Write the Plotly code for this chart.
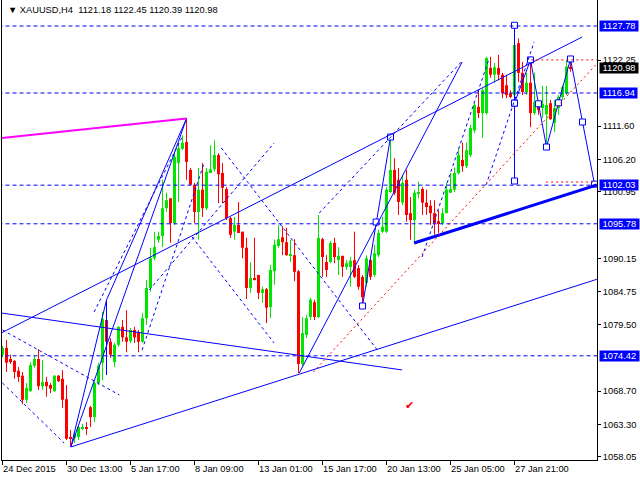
import plotly.graph_objects as go

# ---------------- data ----------------
date_labels = ["24 Dec 2015", "30 Dec 13:00", "5 Jan 17:00", "8 Jan 09:00", "13 Jan 01:00",
               "15 Jan 17:00", "20 Jan 13:00", "25 Jan 05:00", "27 Jan 21:00"]
date_bars = [0, 16, 32, 48, 64, 80, 96, 112, 128]

opens = [1074.6, 1075.7, 1073.9, 1073.6, 1072.0, 1071.2, 1067.3, 1068.7, 1072.8, 1073.9,
         1069.5, 1070.2, 1069.7, 1068.7, 1071.2, 1070.7, 1067.4, 1061.3, 1061.1, 1061.3,
         1062.7, 1062.9, 1066.1, 1064.5, 1070.0, 1073.3, 1080.2, 1076.7, 1073.4, 1076.2,
         1079.1, 1077.4, 1076.8, 1078.6, 1078.3, 1076.7, 1080.5, 1085.4, 1090.2, 1093.2,
         1093.8, 1098.3, 1099.9, 1095.9, 1105.6, 1107.9, 1109.0, 1104.5, 1102.1, 1097.7,
         1101.3, 1098.3, 1104.0, 1104.6, 1106.9, 1104.0, 1101.4, 1096.7, 1094.5, 1095.6,
         1094.5, 1091.9, 1085.4, 1087.0, 1087.5, 1084.6, 1085.2, 1082.3, 1088.1, 1092.2,
         1093.6, 1092.8, 1090.7, 1090.7, 1088.1, 1073.1, 1077.8, 1080.7, 1083.1, 1080.7,
         1093.3, 1089.6, 1089.6, 1092.7, 1089.9, 1090.6, 1088.8, 1088.8, 1089.9, 1088.6,
         1087.2, 1086.2, 1089.9, 1087.5, 1090.7, 1094.5, 1094.5, 1100.9, 1104.5, 1102.9,
         1099.2, 1102.9, 1097.5, 1096.4, 1100.6, 1101.4, 1099.2, 1098.7, 1097.5, 1096.2,
         1095.9, 1097.5, 1100.8, 1101.3, 1104.0, 1106.1, 1105.1, 1106.9, 1110.9, 1114.7,
         1113.7, 1113.7, 1121.0, 1119.9, 1121.0, 1119.9, 1118.2, 1116.9, 1116.6, 1125.0,
         1120.2, 1117.1, 1118.6, 1113.7, 1115.3, 1114.5, 1113.5, 1115.3, 1112.1, 1114.5,
         1116.3, 1116.9, 1121.18]
highs = [1076.0, 1077.0, 1074.6, 1073.7, 1072.6, 1071.8, 1070.0, 1073.4, 1074.4, 1075.5,
         1073.7, 1071.0, 1070.0, 1071.3, 1071.3, 1072.1, 1069.7, 1062.4, 1062.1, 1063.2,
         1063.4, 1063.7, 1066.3, 1070.2, 1073.3, 1081.5, 1081.5, 1077.3, 1076.5, 1079.2,
         1080.2, 1081.8, 1078.9, 1079.1, 1078.6, 1081.3, 1086.7, 1091.9, 1094.5, 1094.5,
         1102.9, 1100.8, 1099.9, 1107.4, 1108.9, 1110.1, 1112.6, 1104.8, 1102.4, 1104.8,
         1105.6, 1104.8, 1108.5, 1109.3, 1107.2, 1105.6, 1101.7, 1096.9, 1096.9, 1099.3,
         1094.5, 1093.5, 1089.6, 1093.5, 1087.5, 1085.6, 1085.4, 1089.1, 1093.2, 1095.6,
         1095.4, 1095.1, 1093.2, 1093.3, 1088.3, 1080.7, 1081.0, 1083.8, 1083.5, 1097.2,
         1093.5, 1090.7, 1093.0, 1093.5, 1092.0, 1090.6, 1089.9, 1090.4, 1094.5, 1089.1,
         1087.5, 1090.7, 1090.2, 1092.4, 1094.8, 1096.9, 1101.7, 1109.8, 1106.4, 1104.8,
         1103.7, 1104.5, 1100.1, 1101.3, 1102.6, 1101.7, 1101.3, 1099.6, 1099.6, 1098.0,
         1098.3, 1102.4, 1104.0, 1104.9, 1108.0, 1108.9, 1108.9, 1111.8, 1115.3, 1117.4,
         1117.7, 1122.8, 1122.8, 1121.8, 1123.1, 1120.2, 1119.9, 1117.4, 1125.8, 1125.8,
         1122.0, 1120.2, 1122.0, 1120.2, 1115.5, 1118.1, 1118.1, 1115.8, 1115.8, 1116.6,
         1118.2, 1122.3, 1122.45]
lows = [1074.2, 1071.8, 1073.1, 1070.7, 1070.2, 1066.6, 1066.8, 1068.6, 1072.5, 1068.9,
        1068.9, 1067.8, 1068.4, 1068.6, 1070.2, 1066.0, 1060.8, 1059.7, 1060.3, 1060.8,
        1062.4, 1061.6, 1062.9, 1063.7, 1069.7, 1070.5, 1075.7, 1074.1, 1072.6, 1075.9,
        1076.7, 1075.0, 1076.5, 1076.5, 1075.0, 1076.5, 1079.4, 1084.8, 1089.9, 1092.7,
        1092.0, 1097.7, 1092.7, 1095.6, 1099.3, 1107.7, 1102.9, 1102.1, 1095.9, 1093.2,
        1096.9, 1098.0, 1104.0, 1104.2, 1099.1, 1099.1, 1096.4, 1093.5, 1093.2, 1094.3,
        1090.2, 1083.6, 1084.6, 1086.6, 1083.6, 1083.0, 1079.7, 1080.5, 1085.9, 1091.9,
        1090.7, 1090.6, 1089.6, 1086.5, 1071.6, 1072.6, 1077.3, 1080.2, 1080.2, 1080.5,
        1087.2, 1087.2, 1089.4, 1089.4, 1087.5, 1087.2, 1088.3, 1085.6, 1087.0, 1085.1,
        1083.0, 1085.6, 1086.7, 1087.2, 1090.4, 1094.3, 1094.3, 1100.8, 1100.4, 1097.2,
        1098.8, 1096.1, 1093.2, 1092.7, 1099.9, 1097.2, 1097.2, 1095.6, 1094.0, 1094.3,
        1095.6, 1097.5, 1100.8, 1100.9, 1103.7, 1104.2, 1104.8, 1106.6, 1110.5, 1112.9,
        1109.7, 1113.4, 1119.4, 1118.6, 1119.0, 1116.1, 1116.1, 1116.1, 1116.3, 1118.7,
        1116.6, 1116.6, 1111.4, 1113.4, 1113.4, 1112.9, 1108.5, 1112.6, 1110.6, 1113.4,
        1115.8, 1116.6, 1120.39]
closes = [1075.7, 1073.3, 1073.4, 1071.8, 1071.0, 1067.3, 1069.2, 1072.9, 1073.9, 1069.5,
          1070.2, 1069.5, 1069.1, 1071.2, 1070.3, 1067.3, 1061.0, 1061.1, 1061.8, 1062.9,
          1062.9, 1062.6, 1064.5, 1070.0, 1072.8, 1080.4, 1076.7, 1074.6, 1076.2, 1079.1,
          1077.4, 1076.7, 1078.6, 1077.4, 1076.7, 1080.5, 1085.4, 1090.2, 1092.0, 1093.8,
          1098.3, 1099.6, 1095.9, 1106.6, 1108.0, 1108.9, 1105.8, 1102.1, 1097.7, 1101.3,
          1098.3, 1104.2, 1104.6, 1106.9, 1103.8, 1101.6, 1096.7, 1094.0, 1095.6, 1094.3,
          1091.9, 1085.4, 1087.0, 1086.7, 1084.6, 1085.2, 1082.2, 1088.3, 1092.4, 1093.3,
          1092.8, 1090.7, 1090.9, 1088.0, 1073.1, 1078.1, 1080.5, 1083.5, 1080.7, 1093.5,
          1090.4, 1088.3, 1092.7, 1090.4, 1090.6, 1088.8, 1089.4, 1089.8, 1087.2, 1085.6,
          1083.9, 1090.2, 1087.2, 1091.0, 1094.3, 1095.3, 1101.3, 1104.5, 1100.8, 1099.3,
          1102.4, 1097.2, 1096.4, 1100.8, 1100.9, 1099.2, 1098.5, 1097.5, 1095.9, 1095.9,
          1097.5, 1101.3, 1101.4, 1104.0, 1106.9, 1105.1, 1107.7, 1111.3, 1115.0, 1113.7,
          1117.4, 1122.6, 1119.9, 1121.1, 1119.9, 1116.9, 1116.6, 1116.3, 1124.7, 1120.2,
          1117.1, 1118.6, 1113.7, 1115.5, 1114.2, 1115.2, 1115.0, 1112.7, 1114.5, 1116.3,
          1117.9, 1121.2, 1120.98]
bars = list(range(len(opens)))

level_prices = [1127.78, 1116.94, 1102.03, 1095.78, 1074.42]
axis_ticks = [1058.05, 1063.30, 1068.70, 1079.50, 1084.75, 1090.15, 1100.95, 1106.20, 1111.60, 1122.25]
last_price = 1120.98
title_text = "XAUUSD,H4\u00a0\u00a01121.18 1122.45 1120.39 1120.98"

# analysis objects: (bar index, price) endpoints
solid_lines = [((-0.33, 1078.11), (144.9, 1126.0)),
               ((17.1, 1059.67), (148.6, 1086.80)),
               ((-0.33, 1081.35), (99.9, 1072.13)),
               ((17.1, 1059.67), (26.0, 1083.45)),
               ((26.0, 1083.45), (46.0, 1112.8)),
               ((26.0, 1083.45), (26.0, 1071.3)),
               ((17.1, 1059.67), (46.0, 1112.8)),
               ((74.2, 1071.64), (114.9, 1121.96))]
thick_line = ((102.9, 1092.67), (148.6, 1102.06))
magenta_line = ((-0.33, 1109.66), (46.0, 1112.8))
dashed_lines = [((54.7, 1108.05), (93.7, 1075.36)),
                ((47.4, 1093.64), (67.9, 1076.49)),
                ((36.7, 1085.07), (67.9, 1108.85)),
                ((0.0, 1078.6), (29.2, 1068.08)),
                ((0.0, 1070.02), (15.4, 1060.31)),
                ((34.9, 1075.36), (50.4, 1105.62)),
                ((22.9, 1081.51), (44.9, 1109.82)),
                ((79.2, 1097.53), (114.7, 1121.96)),
                ((104.9, 1090.41), (121.7, 1122.6)),
                ((120.9, 1102.06), (132.9, 1125.19))]
red_dotted = [((77.7, 1071.8), (148.6, 1121.7)),
              ((132.2, 1122.3), (148.6, 1122.3)),
              ((135.9, 1102.54), (147.9, 1102.54))]
zig1_x = [90.0, 93.4, 97.0]
zig1_y = [1082.48, 1096.07, 1109.82]
vert_x = [128.0, 128.0, 128.0]
vert_y = [1127.9, 1115.3, 1102.7]
zig2_x = [128.0, 132.0, 134.0, 136.0, 139.0, 142.0, 145.0, 148.0]
zig2_y = [1115.3, 1122.3, 1115.2, 1108.2, 1115.35, 1122.45, 1112.25, 1102.2]
check_pos = (101.7, 1066.3)

# ---------------- figure ----------------
UP = "#00e600"
DOWN = "#ff0000"
BLUE = "#0000ff"
FONT = "Liberation Sans, Arial, sans-serif"

fig = go.Figure()

for is_up, col in [(True, UP), (False, DOWN)]:
    idx = [i for i in bars if (closes[i] > opens[i]) == is_up]
    wx, wy = [], []
    for i in idx:
        wx += [i, i, None]
        wy += [lows[i], highs[i], None]
    fig.add_trace(go.Scatter(x=wx, y=wy, mode="lines", line=dict(color=col, width=1),
                             hoverinfo="skip"))
    fig.add_trace(go.Bar(x=idx,
                         y=[max(abs(closes[i] - opens[i]), 0.17) for i in idx],
                         base=[min(opens[i], closes[i]) for i in idx],
                         width=0.75, marker=dict(color=col, line=dict(width=0)),
                         hoverinfo="skip"))

def add_line(p0, p1, color, width=1, dash="solid"):
    fig.add_shape(type="line", xref="x", yref="y", x0=p0[0], y0=p0[1], x1=p1[0], y1=p1[1],
                  line=dict(color=color, width=width, dash=dash), layer="above")

for lv in level_prices:
    add_line((-1, lv), (150, lv), BLUE, 1, "4px,3px")
for p0, p1 in dashed_lines:
    add_line(p0, p1, BLUE, 1, "3px,3px")
for p0, p1 in solid_lines:
    add_line(p0, p1, BLUE, 1)
add_line(thick_line[0], thick_line[1], BLUE, 3)
add_line(magenta_line[0], magenta_line[1], "#ff00ff", 2)
for p0, p1 in red_dotted:
    add_line(p0, p1, "#ff0000", 1, "2px,3px")

for xs, ys in [(zig1_x, zig1_y), (vert_x, vert_y), (zig2_x, zig2_y)]:
    fig.add_trace(go.Scatter(x=xs, y=ys, mode="lines+markers",
                             line=dict(color=BLUE, width=1),
                             marker=dict(symbol="square", size=6, color="white",
                                         line=dict(color=BLUE, width=1)),
                             hoverinfo="skip"))

annotations = []
for lv in level_prices:
    annotations.append(dict(x=1, xref="paper", y=lv, yref="y", xanchor="left", yanchor="middle",
                            xshift=2, text="\u00a0%.2f\u00a0" % lv, showarrow=False,
                            bgcolor=BLUE, borderpad=0,
                            font=dict(family=FONT, size=9.3, color="white")))
annotations.append(dict(x=1, xref="paper", y=last_price, yref="y", xanchor="left", yanchor="middle",
                        xshift=2, text="\u00a0%.2f\u00a0" % last_price, showarrow=False,
                        bgcolor="black", borderpad=0,
                        font=dict(family=FONT, size=9.3, color="white")))
for b, lab in zip(date_bars, date_labels):
    annotations.append(dict(x=b, xref="x", y=0, yref="paper", xanchor="left", yanchor="top",
                            xshift=-2, yshift=-2, text=lab, showarrow=False,
                            font=dict(family=FONT, size=9.3, color="black")))
annotations.append(dict(x=0, xref="paper", y=1, yref="paper", xanchor="left", yanchor="top",
                        xshift=4, yshift=-3, text="\u25bc\u00a0" + title_text, showarrow=False,
                        font=dict(family=FONT, size=9.3, color="black")))
annotations.append(dict(x=check_pos[0], xref="x", y=check_pos[1], yref="y", text="\u2714",
                        showarrow=False, font=dict(family="DejaVu Sans", size=11, color="#ff0000")))

fig.update_layout(
    width=640, height=480,
    margin=dict(l=2, r=43, t=0, b=20),
    paper_bgcolor="white", plot_bgcolor="white",
    showlegend=False, barmode="overlay", hovermode=False,
    annotations=annotations,
    xaxis=dict(range=[-0.125, 148.625], showgrid=False, zeroline=False,
               showline=True, linecolor="black", linewidth=1,
               tickmode="array", tickvals=date_bars, ticks="outside", ticklen=4,
               tickcolor="black", showticklabels=False, fixedrange=True),
    yaxis=dict(range=[1057.56, 1131.99], side="right", showgrid=False, zeroline=False,
               showline=True, mirror=True, linecolor="black", linewidth=1,
               tickmode="array", tickvals=axis_ticks,
               ticktext=["%.2f" % t for t in axis_ticks],
               ticks="outside", ticklen=3, tickcolor="black",
               tickfont=dict(family=FONT, size=9.3, color="black"), fixedrange=True),
)

fig.write_html("out.html", config={"displayModeBar": False})

# remove the browser's default page margin so the 640x480 figure fills the window
with open("out.html", "r", encoding="utf-8") as fh:
    html = fh.read()
html = html.replace("<head>", "<head><style>html,body{margin:0;padding:0;overflow:hidden;}</style>", 1)
with open("out.html", "w", encoding="utf-8") as fh:
    fh.write(html)
